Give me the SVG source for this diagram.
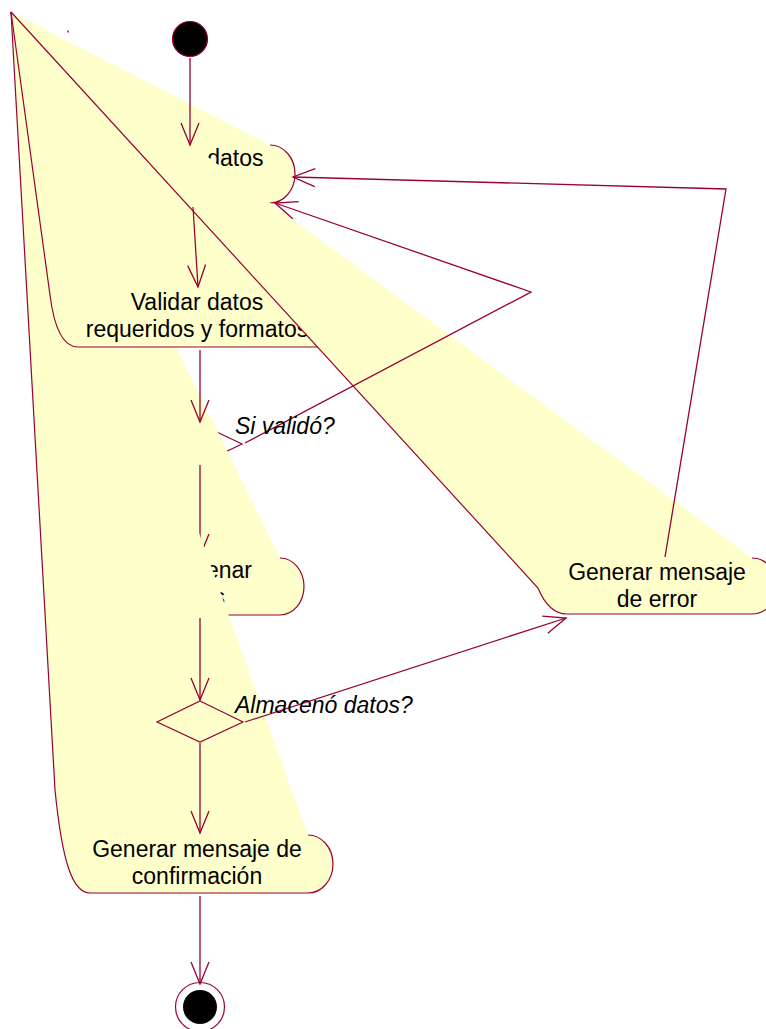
<svg xmlns="http://www.w3.org/2000/svg" width="766" height="1029" viewBox="0 0 766 1029">
<style>
.fill{fill:#FFFFCC;stroke:none}
.edge{fill:none;stroke:#990033;stroke-width:1.2}
.lbl{font-family:"Liberation Sans",Arial,sans-serif;font-size:23px;fill:#000;text-anchor:middle}
.guard{font-family:"Liberation Sans",Arial,sans-serif;font-size:23px;font-style:italic;fill:#000}
.conn{fill:none;stroke:#990033;stroke-width:1.3;marker-end:url(#arr)}
</style>
<defs>
<marker id="arr" markerUnits="userSpaceOnUse" markerWidth="30" markerHeight="24" viewBox="-24 -12 30 24" refX="0" refY="0" orient="auto" overflow="visible">
<path d="M-22,-9 L0,0 L-22,9" fill="none" stroke="#990033" stroke-width="1.3"/>
</marker>
<clipPath id="c4clip"><polygon points="11,12 378,1029 766,1029 766,0 11,0"/></clipPath>
</defs>
<rect width="766" height="1029" fill="#fff"/>

<g id="initial">
<circle cx="190" cy="39" r="17.5" fill="#000" stroke="#990033" stroke-width="1.2"/>
</g>

<g id="ingresar">
<path class="fill" d="M11,12 L270,145 A25,29 0 0 1 270,203 L110,203 A25,29 0 0 1 85,174 Z"/>
<path class="edge" d="M270,145 A25,29 0 0 1 270,203 L110,203 A25,29 0 0 1 85,174 L11,12"/>
<text class="lbl" x="190" y="166">Ingresar datos</text>
</g>

<g id="decision1">
<polygon class="edge" points="200,424 242,444 200,464 158,444"/>
</g>

<g id="almacenar">
<path class="fill" d="M11,12 L280,558 A24,28.5 0 0 1 280,615 L120,615 A24,28.5 0 0 1 96,586.5 Z"/>
<path class="edge" d="M280,558 A24,28.5 0 0 1 280,615 L120,615 A24,28.5 0 0 1 96,586.5 L11,12"/>
<text class="lbl" x="197" y="578">Almacenar</text>
<text class="lbl" x="197" y="605">datos</text>
</g>

<g id="confirmacion">
<path class="fill" d="M11,12 L308,835 A25,29 0 0 1 308,893 L90,893 C72,893 62,860 55,790 Z"/>
<path class="edge" d="M308,835 A25,29 0 0 1 308,893 L90,893 C72,893 62,860 55,790 L11,12"/>
<text class="lbl" x="197" y="857">Generar mensaje de</text>
<text class="lbl" x="197" y="884">confirmación</text>
</g>

<g id="decision2">
<polygon class="edge" points="200,701 243,722 200,742 157,722"/>
</g>

<g id="validar">
<path class="fill" d="M11,12 L317,287 A25,30 0 0 1 317,347 L78,347 C66,347 55,335 50,295 Z"/>
<path class="edge" d="M317,287 A25,30 0 0 1 317,347 L78,347 C66,347 55,335 50,295 L11,12"/>
<text class="lbl" x="197" y="310">Validar datos</text>
<text class="lbl" x="197" y="337">requeridos y formatos</text>
</g>

<g id="error">
<path class="fill" d="M11,12 L752,558 A25,28 0 0 1 752,614 L567,614 C555,614 545,605 538,588 Z"/>
<path class="edge" d="M752,558 A25,28 0 0 1 752,614 L567,614 C555,614 545,605 538,588 L11,12"/>
<text class="lbl" x="657" y="580">Generar mensaje</text>
<text class="lbl" x="657" y="607">de error</text>
</g>

<g id="final">
<circle cx="200" cy="1007" r="24.5" fill="#fff" stroke="#990033" stroke-width="1.2"/>
<circle cx="200" cy="1007" r="17" fill="#000"/>
</g>

<g id="connectors">
<path class="conn" d="M190,58 L190,145"/>
<path class="conn" d="M193,207 L198,287"/>
<path class="conn" d="M200,350 L200,422"/>
<path class="conn" clip-path="url(#c4clip)" d="M200,465 L200,556"/>
<path class="conn" d="M245,443 L531,292 L275,203"/>
<path class="conn" d="M200,618 L200,700"/>
<path class="conn" d="M245,722 L566,618"/>
<path class="conn" d="M665,557 L726,189 L293,177"/>
<path class="conn" d="M200,743 L200,833"/>
<path class="conn" d="M200,896 L200,984"/>
<path d="M67.5,30.5 L68.5,32.5" fill="none" stroke="#990033" stroke-width="1.2"/>
</g>

<g id="guards">
<text class="guard" x="235" y="434">Si validó?</text>
<text class="guard" x="235" y="713">Almacenó datos?</text>
</g>
</svg>
